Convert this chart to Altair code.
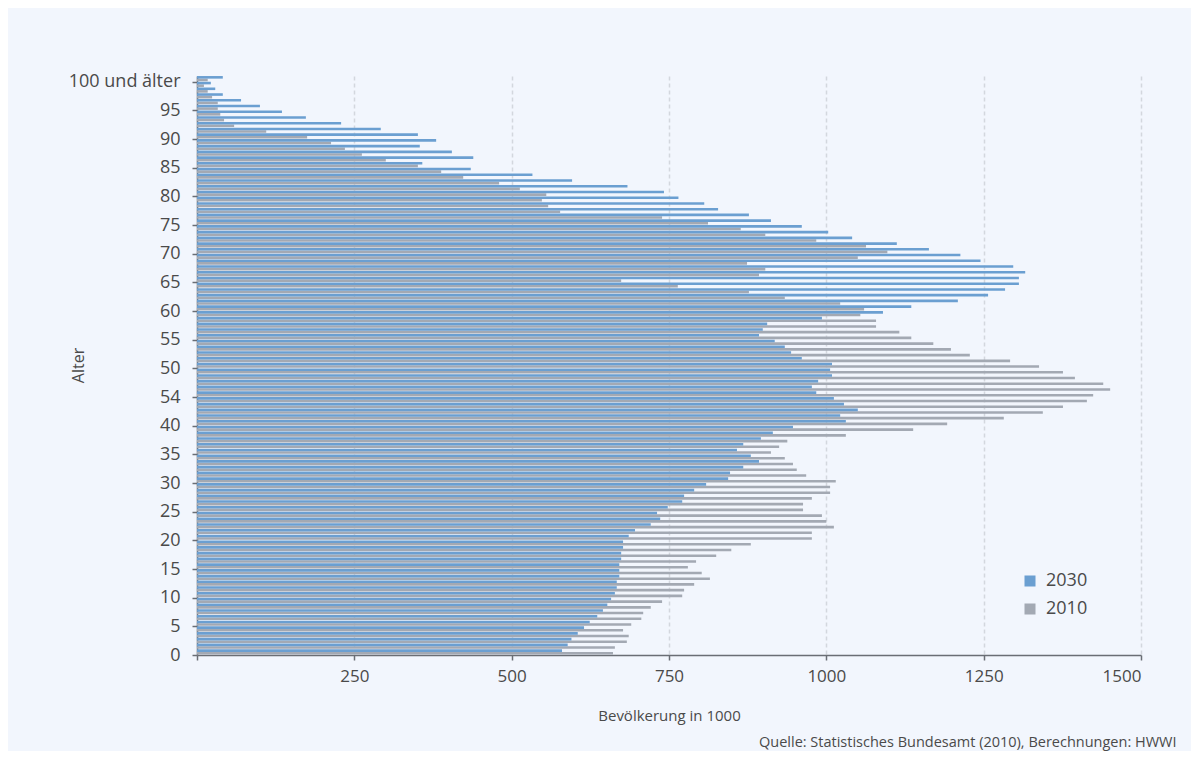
import altair as alt
import pandas as pd

# Ages 0..100 ("100 und älter")
alter = list(range(101))

# Bevölkerung in 1000, 2030 (blue), index = age
bev_2030 = [580, 589, 595, 605, 615, 624, 636, 645, 652, 658,
            664, 667, 667, 671, 671, 671, 674, 674, 677, 677,
            686, 696, 721, 736, 731, 748, 771, 774, 790, 809,
            844, 847, 868, 893, 880, 858, 868, 896, 915, 947,
            1031, 1022, 1050, 1028, 1012, 984, 977, 987, 1009, 1006,
            1009, 961, 944, 934, 918, 893, 899, 906, 993, 1090,
            1135, 1209, 1257, 1284, 1306, 1306, 1316, 1297, 1245, 1213,
            1163, 1112, 1041, 1003, 961, 912, 877, 828, 806, 765,
            742, 684, 596, 533, 435, 358, 439, 405, 354, 380,
            351, 292, 229, 173, 135, 100, 70, 41, 29, 22,
            41]

# Bevölkerung in 1000, 2010 (gray), index = age
bev_2010 = [661, 664, 683, 686, 677, 690, 706, 709, 721, 739,
            771, 774, 790, 815, 802, 780, 793, 825, 849, 880,
            977, 977, 1012, 1000, 993, 963, 963, 977, 1006, 1006,
            1015, 968, 953, 947, 934, 912, 925, 938, 1031, 1138,
            1192, 1282, 1344, 1376, 1414, 1424, 1451, 1440, 1395, 1376,
            1338, 1292, 1228, 1198, 1170, 1135, 1116, 1079, 1079, 1054,
            1060, 1022, 934, 877, 764, 674, 893, 903, 874, 1050,
            1097, 1063, 984, 903, 864, 812, 739, 577, 558, 548,
            555, 513, 480, 423, 388, 351, 300, 262, 235, 213,
            175, 110, 59, 43, 37, 33, 33, 24, 17, 11,
            17]

serien = ["2030", "2010"]
farben = ["#6b9fd1", "#a3a9b3"]
x_ticks = [0, 250, 500, 750, 1000, 1250, 1500]
y_ticks = list(range(0, 101, 5))

df = pd.DataFrame({
    "Alter": alter + alter,
    "Jahr": ["2030"] * len(alter) + ["2010"] * len(alter),
    "Wert": bev_2030 + bev_2010,
})

FONT = "Open Sans"
TXT = "#4a4a4a"
AXC = "#6a6e75"

color = alt.Color(
    "Jahr:N",
    scale=alt.Scale(domain=serien, range=farben),
    legend=alt.Legend(
        title=None, orient="none", legendX=824, legendY=496,
        symbolType="square", symbolSize=121, symbolStrokeWidth=0,
        labelFontSize=18, labelColor=TXT, labelFont=FONT,
        rowPadding=10, labelOffset=7, padding=0,
    ),
)

x = alt.X(
    "Wert:Q",
    scale=alt.Scale(domain=[0, 1500], nice=False, padding=0),
    axis=alt.Axis(
        values=x_ticks, format="d",
        labelExpr="datum.value == 0 ? '' : datum.label",
        title="Bevölkerung in 1000",
        grid=True, gridDash=[4, 3], gridColor="#d3d7de", gridWidth=1.5,
        domainColor=AXC, domainWidth=1.5, tickColor=AXC, tickSize=5, tickWidth=1.5,
        labelFontSize=17, labelColor=TXT, labelPadding=8,
        titleFontSize=15, titleColor=TXT, titleFontWeight="normal", titlePadding=24,
    ),
)

y = alt.Y(
    "Alter:Q",
    scale=alt.Scale(domain=[0, 101], nice=False, zero=False, padding=0),
    axis=alt.Axis(
        values=y_ticks,
        labelExpr="datum.value == 100 ? '100 und älter' : (datum.value == 45 ? '54' : datum.label)",
        title="Alter", grid=False,
        domainColor=AXC, domainWidth=1.5, tickColor=AXC, tickSize=5, tickWidth=1.5,
        labelFontSize=18, labelColor=TXT, labelPadding=12,
        titleFontSize=16, titleColor=TXT, titleFontWeight="normal",
        titleX=-119, titleY=289, titleBaseline="middle", titleAlign="center",
    ),
)

base = alt.Chart(df)
b2030 = base.transform_filter("datum.Jahr == '2030'").mark_bar(
    orient="horizontal", size=2.6, yOffset=-4.4
).encode(x=x, y=y, color=color)
b2010 = base.transform_filter("datum.Jahr == '2010'").mark_bar(
    orient="horizontal", size=2.6, yOffset=-1.8
).encode(x=x, y=y, color=color)

chart = alt.layer(b2010, b2030).properties(
    width=944, height=579,
    autosize=alt.AutoSizeParams(type="none"),
    padding={"left": 189, "top": 68, "right": 50, "bottom": 96},
    title=alt.Title(
        "Quelle: Statistisches Bundesamt (2010), Berechnungen: HWWI",
        orient="bottom", anchor="start", frame="group", dx=562, offset=13,
        fontSize=14.5, font=FONT, color=TXT, fontWeight="normal",
    ),
).configure(
    background="#f2f6fd", font=FONT,
).configure_view(stroke=None).configure_axis(labelFont=FONT, titleFont=FONT)

chart.save("out.html", embed_options={"renderer": "svg", "actions": False})
